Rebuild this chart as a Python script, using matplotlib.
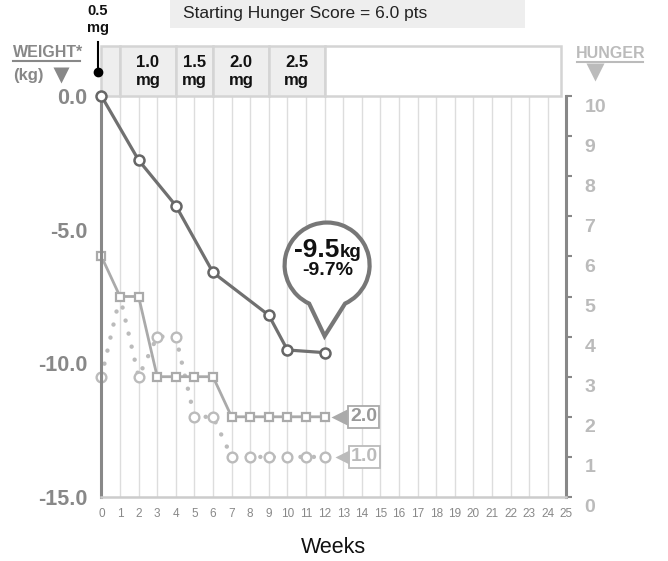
import matplotlib
matplotlib.use("Agg")
import matplotlib.pyplot as plt
import matplotlib.transforms as mtransforms
from matplotlib.path import Path
from matplotlib.patches import PathPatch, Rectangle

plt.rcParams['font.family'] = ['Liberation Sans', 'DejaVu Sans']

# weight (kg change) on left axis
weight_weeks = [0, 2, 4, 6, 9, 10, 12]
weight_kg = [0.0, -2.4, -4.1, -6.6, -8.2, -9.5, -9.6]

# hunger scores on right axis
hunger_weeks = list(range(13))
hunger_a = [6, 5, 5, 3, 3, 3, 3, 2, 2, 2, 2, 2, 2]   # squares, label 2.0
hunger_b = [3, 5, 3, 4, 4, 2, 2, 1, 1, 1, 1, 1, 1]   # dotted circles, label 1.0

# dose schedule (weeks where each dose starts)
dose_starts = [0, 1, 4, 6, 9, 12]
dose_ends = [1, 4, 6, 9, 12, 24.7]
dose_labels = ['', '1.0\nmg', '1.5\nmg', '2.0\nmg', '2.5\nmg', '']

weight_ticks = [0, -5, -10, -15]
weight_ticklabels = ['0.0', '-5.0', '-10.0', '-15.0']
hunger_ticks = list(range(11))
week_ticks = list(range(26))

fig = plt.figure(figsize=(6.68, 5.61), dpi=100)
W, H = 668, 561
ax = fig.add_axes([101.4 / W, 1 - 497 / H, 465 / W, 401 / H])
ax2 = ax.twinx()
ax.set_zorder(ax2.get_zorder() + 1)
ax.patch.set_visible(False)

ax.set_xlim(0, 25)
ax.set_ylim(-15, 0)
ax2.set_ylim(0, 10)

# grid
ax2.set_xticks(week_ticks)
for wk in week_ticks[1:-1]:
    ax2.axvline(wk, color='#dddddd', lw=1, zorder=0)

# spines
for a in (ax, ax2):
    a.spines['top'].set_visible(False)
ax.spines['right'].set_visible(False)
ax2.spines['left'].set_visible(False)
ax.spines['left'].set_color('#888888')
ax.spines['left'].set_linewidth(2.2)
ax2.spines['right'].set_color('#888888')
ax2.spines['right'].set_linewidth(2.2)
ax.spines['bottom'].set_color('#cccccc')
ax.spines['bottom'].set_linewidth(1.8)
ax2.spines['bottom'].set_visible(False)

ax.set_xticks(week_ticks)
ax.set_xticklabels([str(w) for w in week_ticks])
ax.tick_params(axis='x', length=0, pad=8, labelsize=8.5, labelcolor='#888888')
ax.set_yticks(weight_ticks)
ax.set_yticklabels(weight_ticklabels)
ax.tick_params(axis='y', length=0, pad=10, labelsize=15.5, labelcolor='#888888')
for lab in ax.get_yticklabels():
    lab.set_fontweight('bold')

ax2.set_yticks(hunger_ticks)
ax2.tick_params(axis='y', length=4, width=1.5, color='#888888', pad=9,
                labelsize=14, labelcolor='#bbbbbb')
ax2.tick_params(axis='x', length=0, labelbottom=False)
shift = mtransforms.ScaledTranslation(0, -0.09, fig.dpi_scale_trans)
for lab in ax2.get_yticklabels():
    lab.set_fontweight('bold')
    lab.set_transform(lab.get_transform() + shift)

ax.set_xlabel('Weeks', fontsize=15.5, labelpad=12, color='#111111')

# hunger series
ax2.plot(hunger_weeks, hunger_b, color='#bbbbbb', lw=3.2, ls=(0, (0.01, 3.0)),
         dash_capstyle='round', marker='o', ms=7, mfc='white', mec='#bbbbbb',
         mew=1.7, markevery=[0] + list(range(2, 13)), clip_on=False, zorder=3)
ax2.plot(hunger_weeks, hunger_a, color='#aaaaaa', lw=2.0, marker='s', ms=5.8,
         mfc='white', mec='#aaaaaa', mew=1.6, clip_on=False, zorder=4)

# weight series
ax.plot(weight_weeks, weight_kg, color='#707070', lw=2.3, marker='o', ms=7.2,
        mfc='white', mec='#666666', mew=1.8, clip_on=False, zorder=5)

# end labels for hunger series
ax2.annotate('2.0', xy=(hunger_weeks[-1], hunger_a[-1]), xytext=(39, 0),
             textcoords='offset pixels', ha='center', va='center',
             fontsize=14, fontweight='bold', color='#999999',
             bbox=dict(boxstyle='square,pad=0.12', fc='white', ec='#aaaaaa', lw=1.3),
             annotation_clip=False, zorder=6)
ax2.plot([hunger_weeks[-1]], [hunger_a[-1]], marker='<', ms=11, color='#aaaaaa',
         mec='none', clip_on=False, zorder=6,
         transform=ax2.transData + mtransforms.ScaledTranslation(0.145, 0, fig.dpi_scale_trans))
ax2.annotate('1.0', xy=(hunger_weeks[-1], hunger_b[-1]), xytext=(40, 0),
             textcoords='offset pixels', ha='center', va='center',
             fontsize=14, fontweight='bold', color='#bbbbbb',
             bbox=dict(boxstyle='square,pad=0.12', fc='white', ec='#bbbbbb', lw=1.3),
             annotation_clip=False, zorder=6)
ax2.plot([hunger_weeks[-1]], [hunger_b[-1]], marker='<', ms=10, color='#bbbbbb',
         mec='none', clip_on=False, zorder=6,
         transform=ax2.transData + mtransforms.ScaledTranslation(0.175, 0, fig.dpi_scale_trans))

# callout balloon at the last weight point
anchor = (weight_weeks[-1], weight_kg[-1])
btrans = fig.dpi_scale_trans + mtransforms.ScaledTranslation(anchor[0], anchor[1], ax.transData)
arc = Path.arc(-65, 245)
cx, cy, r = 0.025, 0.876, 0.425
verts = [(cx + r * x, cy + r * y) for x, y in arc.vertices]
codes = list(arc.codes)
verts += [(0.0, 0.166), verts[0]]
codes += [Path.LINETO, Path.CLOSEPOLY]
ax.add_patch(PathPatch(Path(verts, codes), transform=btrans, fc='white',
                       ec='#777777', lw=3, joinstyle='miter', clip_on=False, zorder=7))
ax.annotate('-9.5', xy=anchor, xytext=(15, 96), textcoords='offset pixels',
            ha='right', va='baseline', fontsize=19, fontweight='bold',
            color='#111111', annotation_clip=False, zorder=8)
ax.annotate('kg', xy=anchor, xytext=(15, 96), textcoords='offset pixels',
            ha='left', va='baseline', fontsize=13.5, fontweight='bold',
            color='#111111', annotation_clip=False, zorder=8)
ax.annotate('-9.7%', xy=anchor, xytext=(3, 82), textcoords='offset pixels',
            ha='center', va='center', fontsize=14, fontweight='bold',
            color='#111111', annotation_clip=False, zorder=8)

# dose band above the plot
band = mtransforms.blended_transform_factory(ax.transData, ax.transAxes)
for s, e, lab in zip(dose_starts, dose_ends, dose_labels):
    fc = '#ffffff' if s == dose_starts[-1] else '#eeeeee'
    ax.add_patch(Rectangle((s, 1.0), e - s, 0.125, transform=band, fc=fc,
                           ec='#d4d4d4', lw=1.8, clip_on=False, zorder=1))
    if lab:
        ax.text((s + e) / 2, 1.062, lab, transform=band, ha='center', va='center',
                fontsize=12, fontweight='bold', color='#111111', linespacing=1.25)

# 0.5 mg pin
ax.plot([-0.2, -0.2], [1.135, 1.06], transform=band, color='black', lw=1.5,
        clip_on=False, zorder=2)
ax.plot([-0.2], [1.06], transform=band, marker='o', ms=6, color='black',
        clip_on=False, zorder=2)
ax.text(-0.2, 1.19, '0.5\nmg', transform=band, ha='center', va='center',
        fontsize=10.5, fontweight='bold', color='#111111', linespacing=1.3)

# starting hunger banner
fig.patches.append(Rectangle((1.70, 5.33), 3.55, 0.30, transform=fig.dpi_scale_trans,
                             fc='#eeeeee', ec='none'))
fig.text(1.83, 5.475, 'Starting Hunger Score = 6.0 pts', transform=fig.dpi_scale_trans,
         ha='left', va='center', fontsize=12.5, color='#222222')

# axis headers
fig.text(13 / W, 1 - 52.5 / H, 'WEIGHT*', ha='left', va='center', fontsize=11.5,
         fontweight='bold', color='#888888')
fig.add_artist(plt.Line2D([13 / W, 80 / W], [1 - 61 / H, 1 - 61 / H], color='#888888', lw=1.5))
fig.text(13 / W, 1 - 75.5 / H, '(kg)', ha='left', va='center', fontsize=12,
         fontweight='bold', color='#888888')
fig.add_artist(plt.Line2D([61 / W], [1 - 75 / H], marker='v', ms=12, color='#888888', mec='none'))

fig.text(576 / W, 1 - 53.5 / H, 'HUNGER', ha='left', va='center', fontsize=11.5,
         fontweight='bold', color='#bbbbbb')
fig.add_artist(plt.Line2D([577 / W, 643 / W], [1 - 62 / H, 1 - 62 / H], color='#bbbbbb', lw=1.5))
fig.add_artist(plt.Line2D([595 / W], [1 - 72 / H], marker='v', ms=13, color='#bbbbbb', mec='none'))

fig.savefig('out.png', dpi=100)
